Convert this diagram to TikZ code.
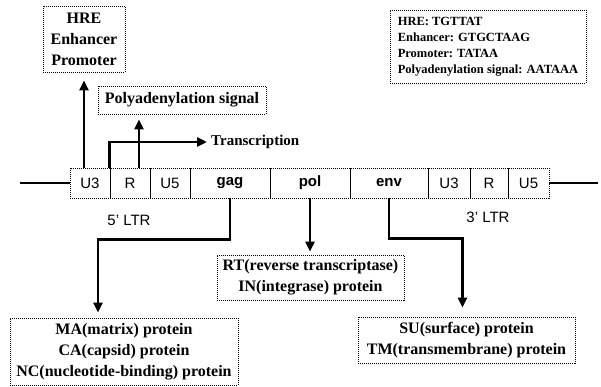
\documentclass[tikz,border=0pt]{standalone}
\usepackage{fontspec}
\setmainfont{Liberation Serif}
\setsansfont{Liberation Sans}
\usetikzlibrary{arrows.meta}
\begin{document}
\begin{tikzpicture}[x=1pt,y=-1pt,
 dotbox/.style={draw, line width=0.9pt, dash pattern=on 1pt off 1pt, inner sep=2pt},
 bigbox/.style={dotbox, align=center, font=\bfseries\fontsize{16}{21}\selectfont},
 seg/.style={dotbox, minimum height=30pt, inner sep=0pt, font=\sffamily\fontsize{15}{15}\selectfont},
 ltr/.style={font=\sffamily\fontsize{15}{15}\selectfont, inner sep=0pt},
 arr/.style={line width=2.6pt, -{Triangle[length=10pt,width=9pt]}},
 sep/.style={line width=1pt}]
\useasboundingbox (0,0) rectangle (601,387);

% genome segments
\node[seg, minimum width=40pt] (U3a) at (90,183) {U3};
\node[seg, minimum width=40pt] (Ra) at (130,183) {R};
\node[seg, minimum width=40pt] (U5a) at (170,183) {U5};
\node[seg, minimum width=80pt, font=\sffamily\bfseries\fontsize{15}{15}\selectfont] (gag) at (230,183) {gag};
\node[seg, minimum width=80pt, font=\sffamily\bfseries\fontsize{15}{15}\selectfont] (pol) at (310,183) {pol};
\node[seg, minimum width=78pt, font=\sffamily\bfseries\fontsize{15}{15}\selectfont] (env) at (389,183) {env};
\node[seg, minimum width=42pt] (U3b) at (449,183) {U3};
\node[seg, minimum width=38pt] (Rb) at (489,183) {R};
\node[seg, minimum width=41pt] (U5b) at (528.5,183) {U5};
\draw[sep] (U5a.north east) -- (U5a.south east);
\draw[sep] (U3b.north east) -- (U3b.south east);
\draw[sep] (Rb.north east) -- (Rb.south east);

\coordinate (lend) at (20,183);
\coordinate (rend) at (598,183);
\draw[line width=2.2pt] (lend) -- (U3a.west);
\draw[line width=2.2pt] (U5b.east) -- (rend);

\node[ltr] (ltr5) at (129,220) {5’ LTR};
\node[ltr] (ltr3) at (488,217) {3’ LTR};

% boxes
\node[bigbox, minimum width=82pt, minimum height=66pt] (HRE) at (84,39) {HRE\\Enhancer\\Promoter};
\node[bigbox, minimum width=168pt, minimum height=28pt] (Poly) at (182,100) {Polyadenylation signal};
\node[dotbox, align=left, minimum width=196pt, minimum height=73pt,
      font=\bfseries\fontsize{12.5}{16}\selectfont] (Seq) at (488,46.5)
      {HRE: TGTTAT\\Enhancer: GTGCTAAG\\Promoter: TATAA\\Polyadenylation signal: AATAAA};
\node[bigbox, minimum width=187pt, minimum height=45pt] (RT) at (310.5,277.5)
      {RT(reverse transcriptase)\\IN(integrase) protein};
\node[bigbox, minimum width=228pt, minimum height=67pt] (MA) at (124,351.5)
      {MA(matrix) protein\\CA(capsid) protein\\NC(nucleotide-binding) protein};
\node[bigbox, minimum width=217pt, minimum height=46pt] (SU) at (466.5,340)
      {SU(surface) protein\\TM(transmembrane) protein};

\node[anchor=west, inner sep=0pt, font=\bfseries\fontsize{15}{15}\selectfont] (Tx) at (211,142) {Transcription};

% arrows
\draw[arr, shorten >=8pt] (U3a.north -| HRE.south) -- (HRE.south);
\coordinate (pA) at ([xshift=9pt]Ra.north);
\draw[arr, shorten >=5pt] (pA) -- (pA |- Poly.south);
\draw[arr, shorten >=4pt] (Ra.north west) |- (Tx.west);
\draw[arr, shorten >=5pt] (gag.south) -- ++(0,41) -| ([xshift=-26pt]MA.north);
\draw[arr, shorten >=3pt] (pol.south) -- (pol.south |- RT.north);
\draw[arr, shorten >=9pt] (env.south) -- ++(0,40) -| ([xshift=-4pt]SU.north);
\end{tikzpicture}
\end{document}
